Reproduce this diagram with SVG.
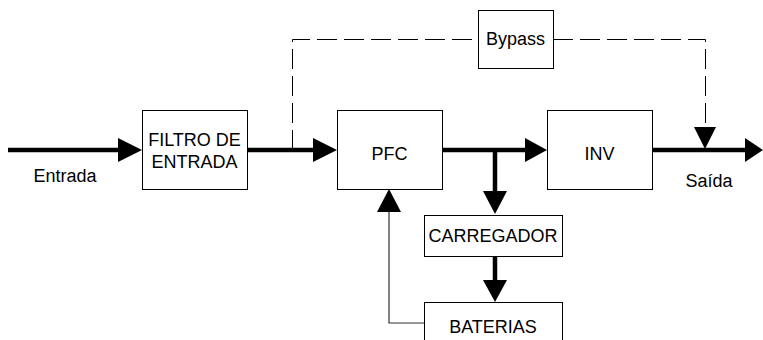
<svg xmlns="http://www.w3.org/2000/svg" width="763" height="340" viewBox="0 0 763 340">
<style>
.box{fill:#fff;stroke:#000;stroke-width:1}
.t{font-family:"Liberation Sans",Arial,sans-serif;font-size:18px;fill:#000;text-anchor:middle}
.thick{stroke:#000;stroke-width:4.5;fill:none}
.thin{stroke:#333;stroke-width:1.2;fill:none}
.dash{stroke:#000;stroke-width:1;fill:none;stroke-dasharray:20 7}
.head{fill:#000}
</style>
<rect width="763" height="340" fill="#fff"/>
<g id="connectors">
<line class="thick" x1="8" y1="150" x2="122" y2="150"/>
<polygon class="head" points="118,138 142,150 118,162"/>
<line class="thick" x1="247" y1="150" x2="317" y2="150"/>
<polygon class="head" points="313,138 337,150 313,162"/>
<line class="thick" x1="442" y1="150" x2="529" y2="150"/>
<polygon class="head" points="525,138 547,150 525,162"/>
<line class="thick" x1="495" y1="150" x2="495" y2="195"/>
<polygon class="head" points="483,191 507,191 495,214"/>
<line class="thick" x1="495" y1="256" x2="495" y2="284"/>
<polygon class="head" points="483,280 507,280 495,302"/>
<line class="thick" x1="652" y1="150" x2="749" y2="150"/>
<polygon class="head" points="745,138 763,150 745,162"/>
<polyline class="dash" points="292.5,150 292.5,39.5 478,39.5"/>
<polyline class="dash" points="553,39.5 705.5,39.5 705.5,130"/>
<polygon class="head" points="694,127 716,127 705,149"/>
<polyline class="thin" points="424,323 389,323 389,208"/>
<polygon class="head" points="377,212 401,212 389,189"/>
</g>
<g id="filtro"><rect class="box" x="142.5" y="110.5" width="105" height="79"/><text class="t" x="194.5" y="146">FILTRO DE</text><text class="t" x="194.5" y="168">ENTRADA</text></g>
<g id="pfc"><rect class="box" x="337.5" y="110.5" width="105" height="79"/><text class="t" x="389.5" y="160">PFC</text></g>
<g id="inv"><rect class="box" x="547.5" y="110.5" width="105" height="79"/><text class="t" x="599.5" y="160">INV</text></g>
<g id="bypass"><rect class="box" x="478.5" y="10.5" width="75" height="58"/><text class="t" x="515.5" y="45">Bypass</text></g>
<g id="carregador"><rect class="box" x="424.5" y="215.5" width="138" height="41"/><text class="t" x="493" y="242">CARREGADOR</text></g>
<g id="baterias"><rect class="box" x="424.5" y="302.5" width="138" height="50"/><text class="t" x="493" y="333">BATERIAS</text></g>
<g id="labels"><text class="t" x="65" y="182">Entrada</text><text class="t" x="709" y="187">Saída</text></g>
</svg>
